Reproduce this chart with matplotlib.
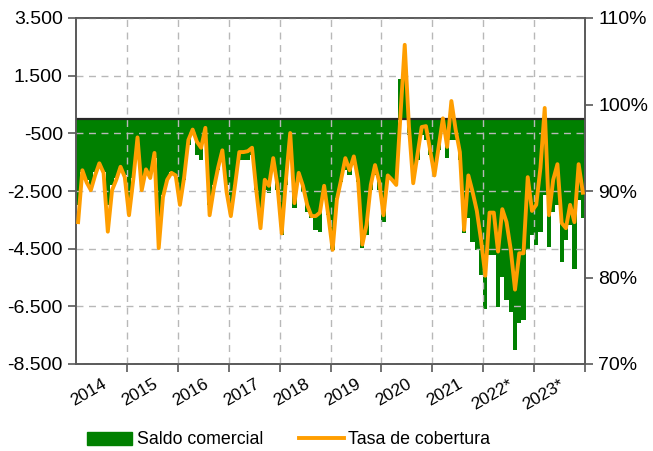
import matplotlib
matplotlib.use("Agg")
import matplotlib.pyplot as plt
import numpy as np

plt.rcParams["font.family"] = ["Liberation Sans", "DejaVu Sans"]

# monthly data, Jan 2014 .. Dec 2023
years = ["2014", "2015", "2016", "2017", "2018", "2019", "2020", "2021", "2022*", "2023*"]

# trade balance (millions)
saldo = [
    -2985, -1841, -2118, -2292, -1841, -1598, -1841, -2985, -2292, -2049, -1702, -1945,  # 2014
    -2985, -2049, -904, -2292, -1772, -1979, -1355, -4026, -2638, -2118, -1841, -1979,   # 2015
    -2742, -2118, -904, -558, -1251, -1425, -558, -2985, -2292, -1772, -1251, -2292,     # 2016
    -3159, -2292, -1425, -1425, -1425, -1251, -2465, -3332, -2465, -2569, -1494, -2465,  # 2017
    -4026, -2292, -731, -3089, -2049, -2534, -3228, -3436, -3852, -3922, -2465, -3332,   # 2018
    -4546, -2742, -2188, -1772, -1945, -1598, -2188, -4476, -4026, -2465, -1945, -2465,  # 2019
    -3575, -2049, -2118, -2188, 1400, 1450, -558, -2118, -1425, -558, -731, -1251,       # 2020
    -1772, -1078, -384, -1355, -731, -731, -1425, -3956, -3436, -4268, -4546, -5413,     # 2021
    -6592, -4719, -4719, -6523, -5482, -6280, -6696, -8014, -7077, -6974, -4546, -4026,  # 2022
    -4372, -3922, -2638, -4442, -3228, -2985, -4962, -4199, -3679, -5205, -2812, -3436,  # 2023
]

# coverage rate (%)
tasa = [
    86.4, 92.4, 91.0, 90.1, 91.8, 93.2, 92.1, 85.3, 90.1, 91.3, 92.8, 91.6,
    87.2, 91.3, 96.2, 90.1, 92.5, 91.5, 94.4, 83.4, 89.3, 91.3, 92.1, 91.8,
    88.4, 91.6, 95.9, 97.1, 95.7, 95.0, 97.3, 87.2, 90.3, 92.7, 94.7, 89.9,
    87.1, 90.7, 94.5, 94.5, 94.6, 95.0, 90.1, 85.7, 91.3, 90.6, 93.8, 90.6,
    85.1, 91.3, 96.7, 88.6, 92.1, 90.6, 88.4, 87.1, 87.1, 87.5, 90.6, 87.1,
    83.2, 89.0, 91.3, 93.8, 92.4, 94.0, 91.3, 83.8, 86.1, 90.7, 93.0, 91.0,
    87.2, 91.8, 91.3, 90.7, 98.8, 106.9, 97.4, 90.9, 94.2, 97.4, 97.5, 94.7,
    91.8, 95.1, 98.4, 95.1, 100.4, 97.1, 94.5, 85.5, 91.8, 89.9, 87.7, 84.3,
    80.2, 87.5, 87.5, 83.0, 87.9, 86.4, 83.2, 78.6, 82.8, 82.8, 91.6, 87.7,
    88.4, 92.7, 99.6, 87.2, 91.3, 93.1, 86.3, 85.7, 88.4, 86.4, 93.1, 89.8,
]

GREEN = "#008000"
ORANGE = "#FF9E00"
SPINE = "#595959"

x = np.arange(len(saldo))

fig = plt.figure(figsize=(6.53, 4.51), dpi=100)
ax = fig.add_axes([76 / 653, 1 - 364 / 451, 509 / 653, 346 / 451])
ax2 = ax.twinx()

ax.bar(x, saldo, width=1.02, color=GREEN, linewidth=0, zorder=1)
ax.axhline(0, color="#262626", lw=1.6, zorder=3)

ax.set_xlim(-0.5, len(saldo) - 0.5)
ax.set_ylim(-8500, 3500)
yt = np.arange(-8500, 3501, 2000)
ax.set_yticks(yt)
ax.set_yticklabels([f"{v:,}".replace(",", ".") for v in yt])

bounds = np.arange(11.5, len(saldo), 12)
ax.set_xticks(bounds)
ax.set_xticklabels([])
ax.set_xticks(np.arange(5.5, len(saldo), 12), minor=True)
ax.set_xticklabels(years, minor=True, rotation=30, ha="right",
                   rotation_mode="anchor", fontsize=12.5)
ax.tick_params(axis="x", which="minor", length=0, pad=9)
ax.tick_params(axis="x", which="major", length=6, color=SPINE, width=1.2)
ax.tick_params(axis="y", length=6, color=SPINE, width=1.2, labelsize=14)

ax.set_axisbelow(False)
ax.grid(True, which="major", color="#b8b8b8", lw=1.0, ls=(0, (5, 4)), zorder=2)

ax2.plot(x, tasa, color=ORANGE, lw=2.8, solid_joinstyle="round", zorder=4)
ax2.set_ylim(70, 110)
ax2.set_yticks([70, 80, 90, 100, 110])
ax2.set_yticklabels([f"{v}%" for v in [70, 80, 90, 100, 110]])
ax2.tick_params(axis="y", length=6, color=SPINE, width=1.2, labelsize=14)

for a in (ax, ax2):
    for s in a.spines.values():
        s.set_color(SPINE)
        s.set_linewidth(1.2)

handles = [
    plt.Rectangle((0, 0), 1, 1, color=GREEN),
    plt.Line2D([0], [0], color=ORANGE, lw=2.8),
]
fig.legend(handles, ["Saldo comercial", "Tasa de cobertura"], ncol=2,
           loc="center left", bbox_to_anchor=(87 / 653, 1 - 440 / 451),
           frameon=False, fontsize=12.8, handlelength=2.55, handleheight=0.8,
           handletextpad=0.25, columnspacing=2.0, borderpad=0, borderaxespad=0)

fig.savefig("out.png", dpi=100)
